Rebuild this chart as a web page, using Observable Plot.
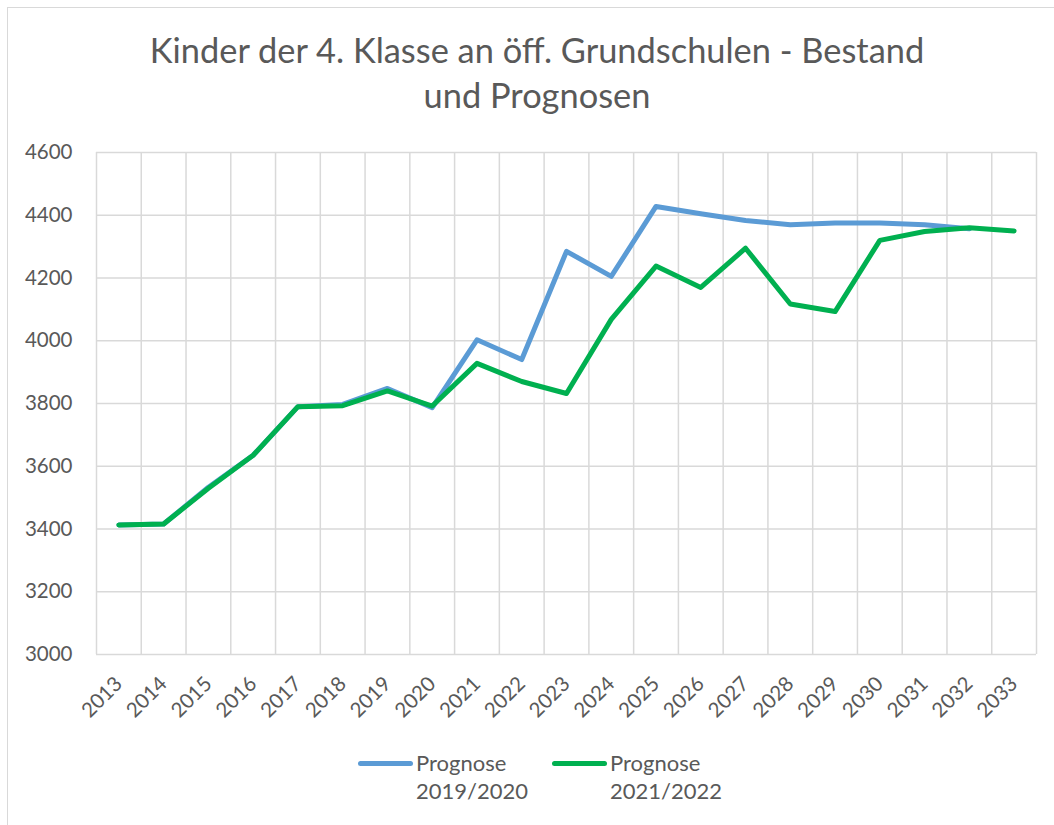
<!DOCTYPE html>
<html>
<head>
<meta charset="utf-8">
<script src="https://cdn.jsdelivr.net/npm/d3@7"></script>
<script src="https://cdn.jsdelivr.net/npm/@observablehq/plot@0.6"></script>
<style>
  html, body { margin: 0; padding: 0; background: #fff; }
  body { width: 1054px; height: 825px; overflow: hidden; position: relative; font-family: Lato, "Open Sans", sans-serif; color: #595959; }
  #frame { position: absolute; left: 7px; top: 7px; width: 1100px; height: 900px; border-left: 1.5px solid #d9d9d9; border-top: 1.5px solid #d9d9d9; pointer-events: none; }
  #title { height: 140px; box-sizing: border-box; padding-top: 27px; text-align: center; font-size: 34.4px; line-height: 45px; width: 1074px; font-weight: 400; }
  #chart { height: 600px; }
  #chart svg { display: block; }
  #legend { position: relative; height: 85px; font-size: 22px; line-height: 28px; }
  .item { position: absolute; top: 9px; display: flex; align-items: flex-start; }
  .swatch { width: 55px; height: 5px; border-radius: 3px; margin-top: 12px; margin-right: 3px; }
</style>
</head>
<body>
<div id="frame"></div>
<div id="title">Kinder der 4. Klasse an öff. Grundschulen - Bestand<br>und Prognosen</div>
<div id="chart"></div>
<div id="legend"></div>
<script>
const years = [2013, 2014, 2015, 2016, 2017, 2018, 2019, 2020, 2021, 2022, 2023, 2024, 2025, 2026, 2027, 2028, 2029, 2030, 2031, 2032, 2033];
const prognose2019 = [3413, 3416, 3533, 3635, 3790, 3797, 3848, 3787, 4003, 3940, 4285, 4205, 4428, 4405, 4383, 4370, 4375, 4375, 4370, 4357, null];
const prognose2021 = [3413, 3416, 3530, 3635, 3790, 3793, 3840, 3792, 3928, 3870, 3832, 4068, 4238, 4170, 4295, 4117, 4093, 4320, 4348, 4360, 4350];
const yTicks = [3000, 3200, 3400, 3600, 3800, 4000, 4200, 4400, 4600];
const seriesNames = ["Prognose 2019/2020", "Prognose 2021/2022"];
const seriesColors = ["#5B9BD5", "#00B050"];

const rows2019 = years.map((year, i) => ({year, value: prognose2019[i]})).filter(d => d.value != null);
const rows2021 = years.map((year, i) => ({year, value: prognose2021[i]})).filter(d => d.value != null);
const boundaries = years.map(y => y - 0.5).concat([years[years.length - 1] + 0.5]);

const chart = Plot.plot({
  width: 1054,
  height: 600,
  marginTop: 12,
  marginBottom: 86,
  marginLeft: 96,
  marginRight: 18,
  style: {fontFamily: "Lato, 'Open Sans', sans-serif", fontSize: "20.5px", color: "#595959", background: "transparent", overflow: "visible"},
  x: {type: "linear", domain: [boundaries[0], boundaries[boundaries.length - 1]]},
  y: {domain: [yTicks[0], yTicks[yTicks.length - 1]]},
  marks: [
    Plot.ruleY(yTicks, {stroke: "#d9d9d9", strokeWidth: 1.5}),
    Plot.ruleX(boundaries, {stroke: "#d9d9d9", strokeWidth: 1.5}),
    Plot.axisY({ticks: yTicks, tickSize: 0, tickPadding: 24, label: null, tickFormat: d => String(d)}),
    Plot.axisX({ticks: years, tickSize: 0, tickPadding: 26, tickRotate: -45, label: null, tickFormat: d => String(d)}),
    Plot.line(rows2019, {x: "year", y: "value", stroke: seriesColors[0], strokeWidth: 5, strokeLinejoin: "round", strokeLinecap: "round"}),
    Plot.line(rows2021, {x: "year", y: "value", stroke: seriesColors[1], strokeWidth: 5, strokeLinejoin: "round", strokeLinecap: "round"})
  ]
});
document.getElementById("chart").appendChild(chart);

const legend = document.getElementById("legend");
const lefts = [358, 552];
seriesNames.forEach((name, i) => {
  const item = document.createElement("div");
  item.className = "item";
  item.style.left = lefts[i] + "px";
  const sw = document.createElement("div");
  sw.className = "swatch";
  sw.style.background = seriesColors[i];
  const txt = document.createElement("div");
  const parts = name.split(" ");
  txt.innerHTML = parts[0] + "<br>" + parts[1];
  item.appendChild(sw);
  item.appendChild(txt);
  legend.appendChild(item);
});
</script>
</body>
</html>
